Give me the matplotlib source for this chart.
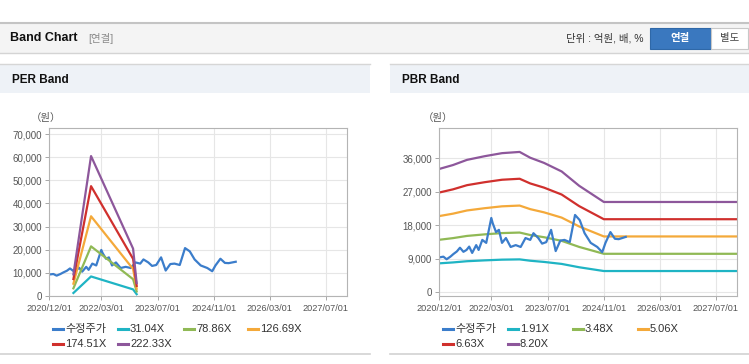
import matplotlib
matplotlib.use("Agg")
import matplotlib.pyplot as plt
from matplotlib.patches import Rectangle
from matplotlib.lines import Line2D
from matplotlib.ticker import FuncFormatter
import pandas as pd

plt.rcParams['font.family'] = ['Liberation Sans', 'Noto Sans CJK KR', 'DejaVu Sans']

W, H = 749, 364

# ---- data ----
price_dates = ["2020-12-05", "2021-01-08", "2021-02-05", "2021-03-10", "2021-04-05", "2021-05-05",
               "2021-06-01", "2021-07-01", "2021-07-28", "2021-08-20", "2021-09-15", "2021-10-20",
               "2021-11-10", "2021-12-12", "2022-01-15", "2022-02-28", "2022-03-12", "2022-04-10",
               "2022-05-05", "2022-06-01", "2022-07-05", "2022-08-15", "2022-09-28", "2022-11-10",
               "2022-12-22", "2023-02-01", "2023-03-01", "2023-04-12", "2023-05-15", "2023-06-20",
               "2023-08-01", "2023-09-10", "2023-10-20", "2023-11-25", "2024-01-10", "2024-02-25",
               "2024-04-06", "2024-05-18", "2024-07-10", "2024-09-05", "2024-10-18", "2024-11-15",
               "2024-12-28", "2025-02-05", "2025-03-10", "2025-05-10"]
price = [9300, 9500, 8800, 9500, 10200, 10900,
         11900, 10800, 11300, 12200, 10500, 12600,
         11300, 14000, 13200, 19900, 18500, 16100,
         16700, 13200, 14500, 12100, 12600, 12100,
         14500, 14000, 15800, 14500, 13000, 13400,
         16700, 11000, 13800, 14000, 13400, 20700,
         19300, 15800, 13200, 12100, 10700, 13200,
         16100, 14300, 14200, 14800]

per_dates = ["2021-07-01", "2021-12-01", "2022-12-01", "2023-01-01"]
per_eps = [42, 272, 92, 25]
per_mult = [31.04, 78.86, 126.69, 174.51, 222.33]
per_labels = ["31.04X", "78.86X", "126.69X", "174.51X", "222.33X"]

pbr_dates = ["2020-12-01", "2021-04-01", "2021-08-01", "2022-01-01", "2022-06-01", "2022-11-01",
             "2023-02-01", "2023-06-01", "2023-11-01", "2024-04-01", "2024-11-01", "2028-01-01"]
pbr_bps = [4030, 4160, 4330, 4450, 4550, 4590, 4400, 4230, 3950, 3480, 2950, 2950]
pbr_mult = [1.91, 3.48, 5.06, 6.63, 8.20]
pbr_labels = ["1.91X", "3.48X", "5.06X", "6.63X", "8.20X"]

x_ticks = ["2020/12/01", "2022/03/01", "2023/07/01", "2024/11/01", "2026/03/01", "2027/07/01"]
per_yticks = [0, 10000, 20000, 30000, 40000, 50000, 60000, 70000]
pbr_yticks = [0, 9000, 18000, 27000, 36000]

price_color = "#3b7dcb"
band_colors = ["#1fb4c4", "#90b955", "#f4a93a", "#d0302d", "#8d579b"]


def fx(x):
    return x / W


def fy(y):
    return 1 - y / H


fig = plt.figure(figsize=(W / 100, H / 100), dpi=100)
fig.patch.set_facecolor("white")


def rect(x0, y0, x1, y1, **kw):
    fig.patches.append(Rectangle((fx(x0), fy(y1)), fx(x1) - fx(x0), fy(y0) - fy(y1),
                                 transform=fig.transFigure, **kw))


def hline(x0, x1, y, color, lw=1.0):
    fig.lines.append(Line2D([fx(x0), fx(x1)], [fy(y), fy(y)], transform=fig.transFigure,
                            color=color, lw=lw))


# top header
rect(0, 22, W, 53, fc="#f4f4f4", ec="none")
hline(0, W, 22.5, "#c4c4c4", 1.5)
hline(0, W, 53, "#d4d4d4", 1.0)
fig.text(fx(10), fy(38), "Band Chart", fontsize=9, fontweight="bold", color="#111", va="center")
fig.text(fx(88), fy(38), "[연결]", fontsize=7.5, color="#8a8a8a", va="center")
fig.text(fx(643), fy(38), "단위 : 억원, 배, %", fontsize=7.5, color="#333", va="center", ha="right")
rect(650, 28, 711, 49, fc="#3a78bf", ec="#2f68a8", lw=0.8)
fig.text(fx(680.5), fy(38.5), "연결", fontsize=7.5, fontweight="bold", color="white", va="center", ha="center")
rect(711, 28, 748, 49, fc="white", ec="#c8c8c8", lw=0.8)
fig.text(fx(730), fy(38.5), "별도", fontsize=7.5, color="#444", va="center", ha="center")

# panel headers
for (x0, x1, title) in [(0, 370, "PER Band"), (390, W, "PBR Band")]:
    rect(x0, 64, x1, 93, fc="#eef2f7", ec="none")
    hline(x0, x1, 64, "#d6d6d6", 1.0)
    hline(x0, x1, 354, "#d2d2d2", 1.2)
    fig.text(fx(x0 + 12), fy(80), title, fontsize=8.5, fontweight="bold", color="#111", va="center")

fig.text(fx(31), fy(118), "（원）", fontsize=7.5, color="#555", va="center")
fig.text(fx(423), fy(118), "（원）", fontsize=7.5, color="#555", va="center")

pdates = pd.to_datetime(price_dates)
xt = pd.to_datetime(x_ticks, format="%Y/%m/%d")


def style_axes(ax, yticks, ylim):
    ax.set_facecolor("white")
    ax.set_xlim(pd.Timestamp("2020-12-01"), pd.Timestamp("2028-01-01"))
    ax.set_ylim(*ylim)
    ax.set_xticks(xt)
    ax.set_xticklabels(x_ticks)
    ax.set_yticks(yticks)
    ax.yaxis.set_major_formatter(FuncFormatter(lambda v, p: f"{v:,.0f}"))
    ax.grid(True, color="#e6e6e6", lw=0.8)
    ax.set_axisbelow(True)
    for s in ax.spines.values():
        s.set_color("#b4b4b4")
        s.set_linewidth(0.8)
    ax.tick_params(axis="x", labelsize=6.6, colors="#999", labelcolor="#555", length=3, width=0.6, pad=3)
    ax.tick_params(axis="y", labelsize=7, colors="#999", labelcolor="#555", length=3, width=0.6, pad=2)


def legend(x_cols, rows, handles, labels):
    for i, (h, lab) in enumerate(zip(handles, labels)):
        x = x_cols[i % 4]
        y = rows[i // 4]
        fig.lines.append(Line2D([fx(x), fx(x + 10)], [fy(y), fy(y)], transform=fig.transFigure,
                                color=h.get_color(), lw=2.2))
        fig.text(fx(x + 12), fy(y), lab, fontsize=8, color="#333", va="center")


# PER panel
ax1 = fig.add_axes([fx(49), fy(296), fx(347) - fx(49), fy(128) - fy(296)])
h_price = ax1.plot(pdates, price, color=price_color, lw=1.6)[0]
hs = [h_price]
bd = pd.to_datetime(per_dates)
for m, c in zip(per_mult, band_colors):
    hs.append(ax1.plot(bd, [e * m for e in per_eps], color=c, lw=1.6)[0])
style_axes(ax1, per_yticks, (0, 72600))
legend([53, 118, 184, 248], [329, 344], hs, ["수정주가"] + per_labels)

# PBR panel
ax2 = fig.add_axes([fx(439), fy(296), fx(737) - fx(439), fy(128) - fy(296)])
bd2 = pd.to_datetime(pbr_dates)
hs2 = []
for m, c in zip(pbr_mult, band_colors):
    hs2.append(ax2.plot(bd2, [b * m for b in pbr_bps], color=c, lw=1.6)[0])
h_price2 = ax2.plot(pdates, price, color=price_color, lw=1.6)[0]
style_axes(ax2, pbr_yticks, (-1075, 44070))
legend([443, 508, 573, 638], [329, 344], [h_price2] + hs2, ["수정주가"] + pbr_labels)

fig.savefig("out.png", dpi=100)
